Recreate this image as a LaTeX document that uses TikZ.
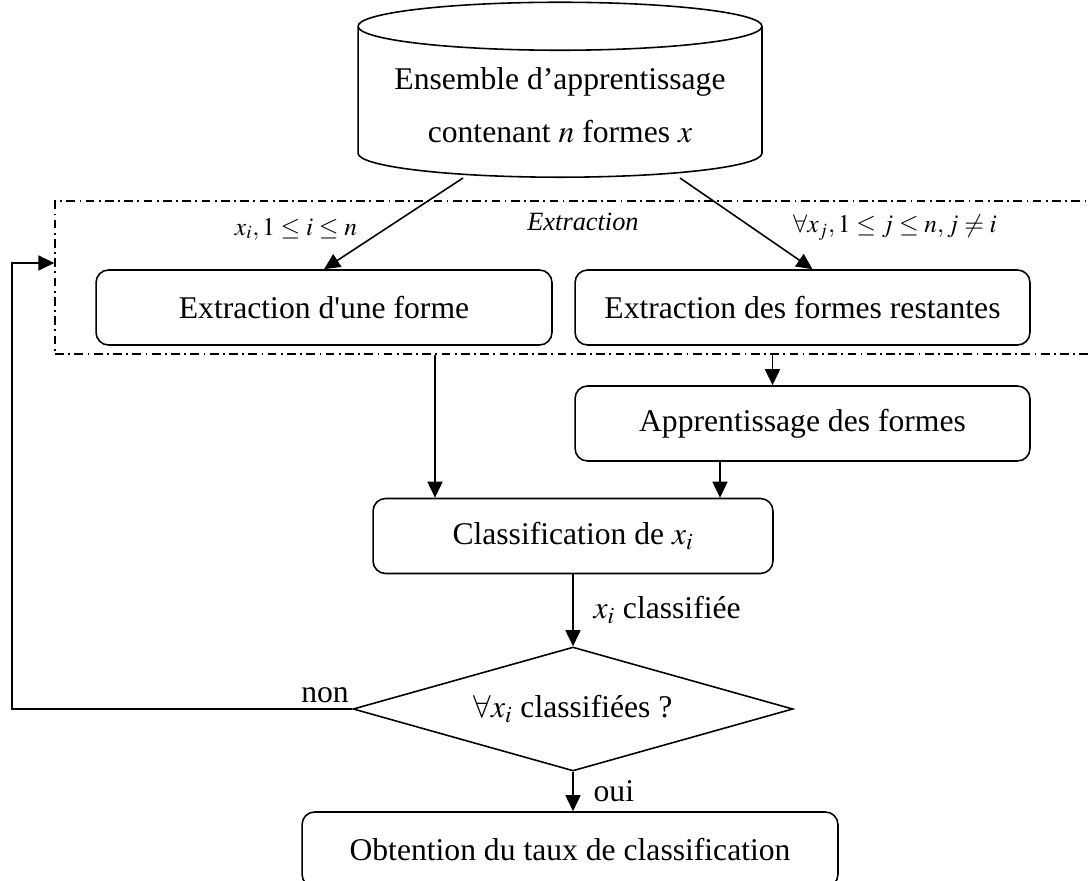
\documentclass[tikz,border=0pt]{standalone}
\usepackage{mathptmx}
\usepackage{fontspec}
\setmainfont{Liberation Serif}
\usetikzlibrary{arrows.meta,calc,positioning,shapes.geometric}

\tikzset{
  box/.style={draw, rounded corners=2.5mm, minimum height=1.5cm, align=center},
  frametrait/.style={draw, dash pattern=on 5pt off 2.5pt on 1pt off 2.5pt},
  petit/.style={font=\fontsize{14.5}{17}\selectfont},
  cote/.style={right, xshift=2.8mm},
}

\begin{document}
\begin{tikzpicture}[x=0.02cm, y=-0.02cm, line width=0.9pt, >={Triangle[length=3.2mm,width=3mm]}, font=\fontsize{18}{22}\selectfont]
  \useasboundingbox (0,0) rectangle (1091,881);
  % base
  \node[draw, cylinder, shape border rotate=90, aspect=0.14, minimum width=8.08cm, minimum height=3.5cm,
        align=center, font=\fontsize{18}{30}\selectfont] (db) at (560,105)
        {Ensemble d’apprentissage\\contenant $n$ formes $x$};
  % cadre d'extraction
  \node[frametrait, minimum width=20.9cm, minimum height=3.06cm, inner sep=0] (frame) at (577.5,277.5) {};
  \node[font=\fontsize{15}{18}\selectfont\itshape] (lext) at (583,222) {Extraction};
  \node[petit] (lx) at (296,229) {$x_i, 1\le i\le n$};
  \node[petit] (lall) at (895,228) {$\forall x_j, 1\le j\le n, j\ne i$};
  \node[box, minimum width=9.12cm] (ext1) at (324,307.5) {Extraction d\textquotesingle une forme};
  \node[box, minimum width=9.1cm] (ext2) at (802.5,307.5) {Extraction des formes restantes};
  \node[box, minimum width=9.1cm] (app) at (802.5,423.5) {Apprentissage des formes};
  \node[box, minimum width=8cm] (cls) at (573,536) {Classification de $x_i$};
  \node[draw, diamond, aspect=3.5, minimum width=8.8cm, minimum height=2.48cm, inner sep=0] (test) at (573,709)
        {$\forall x_i$ classifiées ?};
  \node[box, minimum width=10.72cm] (res) at (570,849.5) {Obtention du taux de classification};
  \coordinate (back) at (12,263);

  \draw[->] ($(db.south)+(-97,0)$) -- (ext1.north);
  \draw[->] ($(db.south)+(120,0)$) -- ($(ext2.north)+(10,0)$);
  \coordinate (c1) at ($(cls.north)+(-138,0)$);
  \coordinate (c2) at ($(app.north)+(-30,0)$);
  \coordinate (c3) at ($(cls.north)+(147,0)$);
  \draw[->] (frame.south -| c1) -- (c1);
  \draw[->] (frame.south -| c2) -- (c2);
  \draw[->] (app.south -| c3) -- (c3);
  \draw[->] (cls.south) -- node[cote] {$x_i$ classifiée} (test.north);
  \draw[->] (test.south) -- node[cote] {oui} (test.south |- res.north);
  \draw[->] (test.west) -- node[above, pos=0.08] {non} (test.west -| back) |- (frame.west |- back);
\end{tikzpicture}
\end{document}
